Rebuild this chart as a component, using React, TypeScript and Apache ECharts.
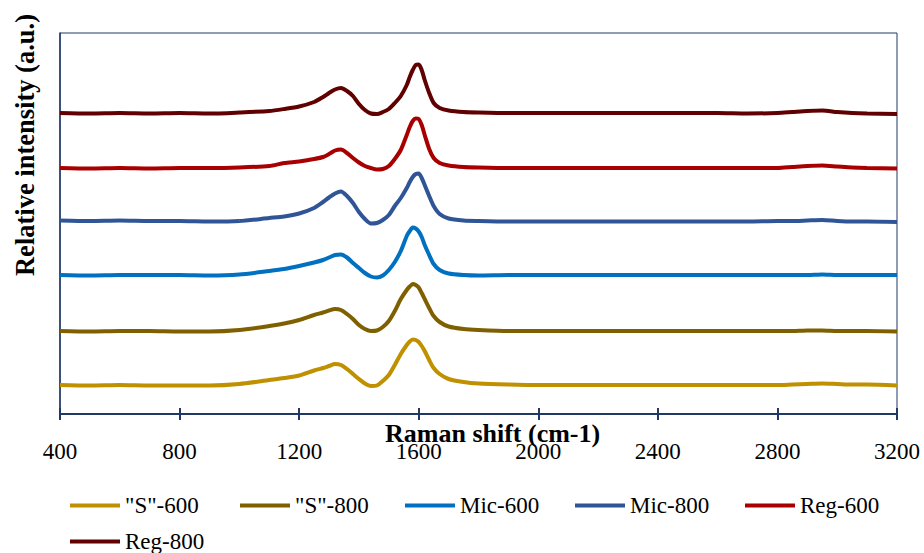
import React, { useEffect, useRef } from "react";
import * as echarts from "echarts";

const shifts = [400, 500, 600, 700, 800, 900, 1000, 1100, 1150, 1200, 1250, 1280, 1300, 1320, 1340, 1360, 1380, 1400, 1420, 1440, 1460, 1480, 1500, 1520, 1540, 1560, 1570, 1580, 1590, 1600, 1610, 1620, 1635, 1650, 1670, 1700, 1750, 1800, 1900, 2000, 2200, 2400, 2600, 2700, 2800, 2850, 2900, 2950, 3000, 3050, 3100, 3200];

const seriesNames = ['"S"-600', '"S"-800', "Mic-600", "Mic-800", "Reg-600", "Reg-800"];

const s600 = [29, 28.5, 29, 28.5, 28.5, 28.5, 30, 34, 36, 38.5, 43.5, 46, 48, 50, 49, 45, 40, 35, 30.5, 28, 28.5, 33, 39, 49, 60, 69, 72.5, 74.5, 74, 72, 68, 63, 54, 46, 40, 35, 32, 30.5, 29.5, 29, 29, 29, 29, 29, 29, 29.5, 30, 30.5, 30, 29.5, 29.5, 28.5];
const s800 = [83, 82.5, 83, 83, 82.5, 82.5, 84, 88, 90.5, 94, 99, 101.5, 103.5, 105, 104, 100, 95, 89, 85, 83, 83.5, 87, 93, 103, 115, 124, 127.5, 130, 129, 126.5, 121, 115, 106, 98, 92, 87.5, 85, 84, 83, 83, 83, 83, 83, 83, 83, 83, 83.5, 83.5, 83, 83, 83, 82.5];
const mic600 = [139, 138.5, 139, 139, 139, 138.5, 139.5, 143, 145, 148, 151.5, 154, 156.5, 159, 159.5, 156.5, 151, 146, 141, 137.5, 136.5, 138.5, 144, 152, 163, 178, 183, 186.5, 185.5, 182.5, 177, 169, 159, 150, 144, 140.5, 139, 138.5, 139, 139, 139, 139, 139, 139, 139, 139, 139, 139.5, 139, 139, 139, 139];
const mic800 = [193.5, 193, 193.5, 193, 193, 192.5, 193, 196, 197.5, 200.5, 206, 212, 216.5, 220.5, 222.5, 218, 211, 202, 195, 190.5, 191, 194, 199, 208, 216, 226, 232, 237, 240, 240.5, 236, 229, 218, 208, 200, 195.5, 193.5, 193, 192.5, 192.5, 192.5, 192.5, 192.5, 192.5, 193, 193, 193.5, 194, 193, 192.5, 192.5, 192];
const reg600 = [246, 245.5, 246, 245.5, 246, 246, 246.5, 248, 251, 252.5, 255, 257, 260, 263.5, 264.5, 261, 256, 251.5, 248, 246, 244.5, 245, 248, 255, 264, 279, 287, 293, 295.5, 295, 289, 279, 265, 256, 251, 248.5, 247, 246.5, 246, 246, 246, 246, 246, 246, 246, 247, 248, 248.5, 247.5, 246.5, 246, 245.5];
const reg800 = [301, 300.5, 301, 300.5, 301, 300.5, 301.5, 303, 305, 307.5, 312, 317, 321, 324.5, 326, 323, 318, 310, 304, 300.5, 300, 302, 305, 311, 318, 329, 337, 344, 349, 349.5, 344, 334, 321, 311, 306, 303.5, 302, 301.5, 301, 301, 301, 301, 301, 300.5, 301, 302, 303, 303.5, 302, 301, 300.5, 300];

const colors = ["#BF9000", "#7F6000", "#0070C0", "#2F5597", "#A80000", "#600000"];
const legendPos = [
  [70, 494],
  [240, 494],
  [405, 494],
  [575, 494],
  [745, 494],
  [70, 530],
];

const allValues = [s600, s800, mic600, mic800, reg600, reg800];
const serif = "'Liberation Serif', 'Times New Roman', serif";
const navy = "#1F3864";

export default function App() {
  const ref = useRef<HTMLDivElement>(null);
  useEffect(() => {
    if (!ref.current) return;
    const chart = echarts.init(ref.current, null, { renderer: "svg" });
    const series = allValues.map((vals, i) => ({
      name: seriesNames[i],
      type: "line",
      data: shifts.map((x, j) => [x, vals[j]]),
      showSymbol: false,
      smooth: 0.25,
      lineStyle: { width: 4, color: colors[i] },
      itemStyle: { color: colors[i] },
      z: 3,
    }));
    chart.setOption({
      animation: false,
      backgroundColor: "#ffffff",
      grid: {
        left: 60,
        top: 33,
        right: 27,
        bottom: 139,
        show: true,
        borderColor: navy,
        borderWidth: 1,
      },
      xAxis: [
        {
          type: "value",
          position: "bottom",
          min: 400,
          max: 3200,
          interval: 400,
          splitLine: { show: false },
          axisLine: { show: true, lineStyle: { color: navy, width: 2 } },
          axisTick: { show: true, inside: false, length: 6, lineStyle: { color: navy, width: 2 } },
          axisLabel: {
            color: "#000",
            fontFamily: serif,
            fontSize: 23,
            margin: 26,
            formatter: (v: number) => String(v),
          },
        },
        {
          type: "value",
          position: "bottom",
          min: 400,
          max: 3200,
          interval: 400,
          splitLine: { show: false },
          axisLine: { show: false },
          axisTick: { show: true, inside: true, length: 6, lineStyle: { color: navy, width: 2 } },
          axisLabel: { show: false },
        },
      ],
      yAxis: {
        type: "value",
        min: 0,
        max: 381,
        splitLine: { show: false },
        axisLine: { show: true, lineStyle: { color: navy, width: 1.5 } },
        axisTick: { show: false },
        axisLabel: { show: false },
      },
      legend: seriesNames.map((name, i) => ({
        data: [name],
        left: legendPos[i][0],
        top: legendPos[i][1],
        padding: 0,
        itemWidth: 50,
        itemHeight: 4,
        itemGap: 0,
        icon: "rect",
        textStyle: { color: "#000", fontFamily: serif, fontSize: 23, padding: [0, 0, 0, 0] },
      })),
      graphic: [
        {
          type: "text",
          left: 385,
          top: 420,
          style: {
            text: "Raman shift (cm-1)",
            font: "bold 26px 'Liberation Serif', 'Times New Roman', serif",
            fill: "#000",
          },
          z: 10,
        },
        {
          type: "text",
          x: 25,
          y: 145,
          rotation: Math.PI / 2,
          style: {
            text: "Relative intensity (a.u.)",
            font: "bold 26.5px 'Liberation Serif', 'Times New Roman', serif",
            fill: "#000",
            align: "center",
            verticalAlign: "middle",
          },
        },
      ],
      series,
    });
    return () => chart.dispose();
  }, []);
  return (
    <div
      ref={ref}
      style={{ position: "fixed", left: 0, top: 0, width: 924, height: 553 }}
    />
  );
}
